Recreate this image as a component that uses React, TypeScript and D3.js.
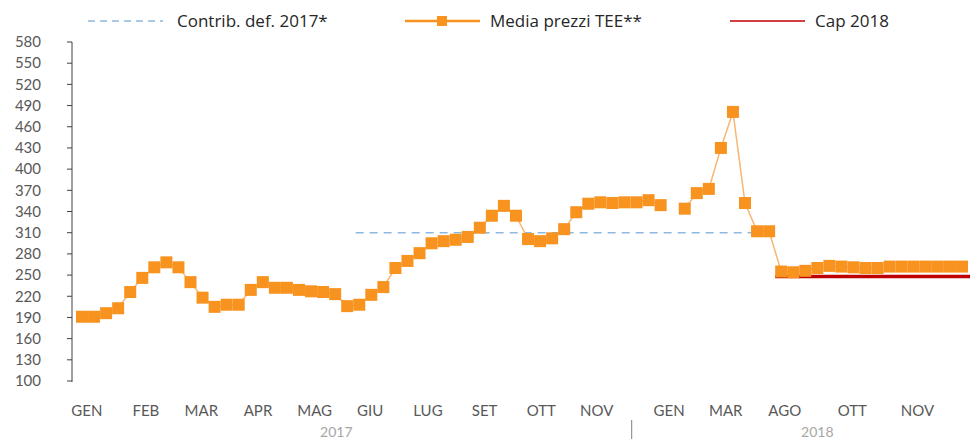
import React from "react";
import * as d3 from "d3";

// weekly TEE average prices (null = gap between years)
const teePrices: (number | null)[] = [
  191, 191, 196, 203, 226, 246, 261, 268, 261, 240,
  218, 205, 208, 208, 229, 240, 232, 232, 229, 227,
  226, 223, 206, 208, 222, 233, 260, 270, 281, 295,
  298, 300, 304, 317, 334, 348, 334, 301, 298, 302,
  315, 339, 351, 353, 352, 353, 353, 356, 349, null,
  344, 366, 372, 430, 481, 352, 312, 312, 255, 254,
  256, 260, 263, 262, 261, 260, 260, 262, 262, 262,
  262, 262, 262, 262,
];
const contribValue = 310;
const contribRange = [22.7, 56];
const capValue = 248;
const capRange = [57.5, 74];

const yTicks = [100, 130, 160, 190, 220, 250, 280, 310, 340, 370, 400, 430, 460, 490, 520, 550, 580];
const monthLabels = ["GEN", "FEB", "MAR", "APR", "MAG", "GIU", "LUG", "SET", "OTT", "NOV", "GEN", "MAR", "AGO", "OTT", "NOV"];
const monthPos = [0.4, 5.3, 9.9, 14.6, 19.3, 23.9, 28.7, 33.4, 38.1, 42.7, 48.7, 53.4, 58.3, 63.9, 69.3];
const years = ["2017", "2018"];
const yearPos = [21.1, 61.0];
const yearSeparator = 45.6;

const legendLabels = ["Contrib. def. 2017*", "Media prezzi TEE**", "Cap 2018"];

const W = 970;
const H = 439;

export default function App() {
  const x = d3.scaleLinear().domain([0, teePrices.length - 1]).range([82, 962]);
  const y = d3.scaleLinear().domain([100, 580]).range([381, 42]);

  const line = d3
    .line<number | null>()
    .defined((d) => d !== null)
    .x((_, i) => x(i))
    .y((d) => y(d as number));

  const axisFont = "Lato, 'Open Sans', sans-serif";
  const legendFont = "'Liberation Sans Narrow', 'Arial Narrow', 'Open Sans', sans-serif";
  const orange = "#F7931E";
  const orangeLine = "#F9B574";
  const blue = "#8FB8DE";
  const red = "#C00000";
  const grey = "#595959";
  const ms = 12;

  return (
    <svg
      width={W}
      height={H}
      style={{ position: "absolute", left: 0, top: 0, background: "#fff" }}
      xmlns="http://www.w3.org/2000/svg"
    >
      {/* legend */}
      <g fontFamily={legendFont} fontSize={17} fill="#262626">
        <line x1={88} x2={163} y1={21} y2={21} stroke={blue} strokeWidth={1.5} strokeDasharray="7,5" />
        <text x={177} y={27}>{legendLabels[0]}</text>
        <line x1={405} x2={480} y1={21} y2={21} stroke={orange} strokeWidth={2.5} />
        <rect x={437} y={16} width={10} height={10} fill={orange} />
        <text x={490} y={27}>{legendLabels[1]}</text>
        <line x1={730} x2={805} y1={21} y2={21} stroke={red} strokeWidth={1.5} />
        <text x={815} y={27}>{legendLabels[2]}</text>
      </g>

      {/* y axis */}
      <line x1={72} x2={72} y1={y(580)} y2={y(100) + 1} stroke="#404040" strokeWidth={1} />
      {yTicks.map((t) => (
        <g key={t}>
          <line x1={67} x2={72} y1={y(t)} y2={y(t)} stroke="#404040" strokeWidth={1} />
          <text
            x={41}
            y={y(t)}
            dy="0.35em"
            textAnchor="end"
            fontFamily={axisFont}
            fontSize={15}
            fill={grey}
          >
            {t}
          </text>
        </g>
      ))}

      {/* contribution dashed line */}
      <line
        x1={x(contribRange[0])}
        x2={x(contribRange[1])}
        y1={y(contribValue)}
        y2={y(contribValue)}
        stroke={blue}
        strokeWidth={1.5}
        strokeDasharray="8,6"
      />

      {/* cap line */}
      <line
        x1={x(capRange[0])}
        x2={x(capRange[1])}
        y1={y(capValue)}
        y2={y(capValue)}
        stroke={red}
        strokeWidth={3.5}
      />

      {/* TEE line */}
      <path d={line(teePrices) || ""} fill="none" stroke={orangeLine} strokeWidth={1.5} />
      {teePrices.map((d, i) =>
        d === null ? null : (
          <rect
            key={i}
            x={x(i) - ms / 2}
            y={y(d) - ms / 2}
            width={ms}
            height={ms}
            fill={orange}
          />
        )
      )}

      {/* x labels */}
      {monthLabels.map((m, i) => (
        <text
          key={i}
          x={x(monthPos[i])}
          y={416}
          textAnchor="middle"
          fontFamily={axisFont}
          fontSize={15}
          fill={grey}
        >
          {m}
        </text>
      ))}
      {years.map((yr, i) => (
        <text
          key={yr}
          x={x(yearPos[i])}
          y={437}
          textAnchor="middle"
          fontFamily={axisFont}
          fontSize={14}
          fill="#A6A6A6"
        >
          {yr}
        </text>
      ))}
      <line
        x1={x(yearSeparator)}
        x2={x(yearSeparator)}
        y1={420}
        y2={439}
        stroke="#7F7F7F"
        strokeWidth={1}
      />
    </svg>
  );
}
